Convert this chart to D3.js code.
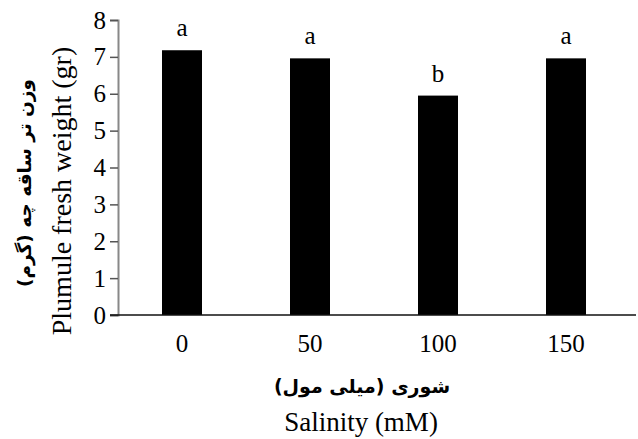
<!DOCTYPE html>
<html>
<head>
<meta charset="utf-8">
<script src="https://cdn.jsdelivr.net/npm/d3@7"></script>
<style>
  body { margin: 0; background: #fff; }
  svg { display: block; }
</style>
</head>
<body>
<div id="chart"></div>
<script>
// salinity levels (mM)
const categories = ["0", "50", "100", "150"];
// plumule fresh weight (gr)
const values = [7.18, 6.96, 5.95, 6.96];
// mean comparison letters
const letters = ["a", "a", "b", "a"];
const yTicks = [0, 1, 2, 3, 4, 5, 6, 7, 8];

const SERIF = "Liberation Serif";
const FA = "DejaVu Sans";

function drawChart() {
    const W = 638, H = 439;
    const margin = { left: 118, top: 20 };
    const plotW = 512, plotH = 295;

    const svg = d3.select("#chart").append("svg")
        .attr("width", W)
        .attr("height", H)
        .attr("font-family", SERIF);

    const x = d3.scaleBand()
        .domain(categories)
        .range([margin.left, margin.left + plotW])
        .paddingInner(0.6875)
        .paddingOuter(0.34375);

    const y = d3.scaleLinear()
        .domain([0, 8])
        .range([margin.top + plotH, margin.top]);

    // y axis
    const yAxis = svg.append("g")
        .attr("transform", `translate(${margin.left},0)`)
        .call(d3.axisLeft(y).tickValues(yTicks).tickSize(8).tickPadding(4));
    yAxis.attr("font-family", SERIF).attr("font-size", 25);
    yAxis.selectAll(".tick text").attr("fill", "#000");
    yAxis.select(".domain").attr("stroke", "#888").attr("stroke-width", 2);
    yAxis.selectAll(".tick line").attr("stroke", "#555").attr("stroke-width", 1.5);

    // bars
    svg.append("g")
        .selectAll("rect")
        .data(values)
        .enter()
        .append("rect")
        .attr("x", (d, i) => x(categories[i]))
        .attr("y", d => y(d))
        .attr("width", x.bandwidth())
        .attr("height", d => y(0) - y(d))
        .attr("fill", "#000");

    // letters above bars
    svg.append("g")
        .attr("font-family", SERIF)
        .attr("font-size", 25)
        .selectAll("text")
        .data(values)
        .enter()
        .append("text")
        .attr("x", (d, i) => x(categories[i]) + x.bandwidth() / 2)
        .attr("y", d => y(d) - 14)
        .attr("text-anchor", "middle")
        .text((d, i) => letters[i]);

    // x axis (labels only) + baseline
    const xAxis = svg.append("g")
        .attr("transform", `translate(0,${y(0)})`)
        .call(d3.axisBottom(x).tickSize(0).tickPadding(19));
    xAxis.attr("font-family", SERIF).attr("font-size", 25);
    xAxis.selectAll(".tick text").attr("fill", "#000");
    xAxis.select(".domain").remove();

    svg.append("line")
        .attr("x1", margin.left - 8)
        .attr("x2", 636)
        .attr("y1", y(0))
        .attr("y2", y(0))
        .attr("stroke", "#111")
        .attr("stroke-width", 1.5);

    // x titles
    svg.append("text")
        .attr("font-family", FA)
        .attr("font-weight", "bold")
        .attr("font-size", 19)
        .attr("x", 362)
        .attr("y", 393)
        .attr("text-anchor", "middle")
        .attr("direction", "rtl")
        .text("شوری (میلی مول)");

    svg.append("text")
        .attr("font-family", SERIF)
        .attr("font-size", 27)
        .attr("x", 361)
        .attr("y", 431)
        .attr("text-anchor", "middle")
        .text("Salinity (mM)");

    // y titles
    svg.append("text")
        .attr("font-family", SERIF)
        .attr("font-size", 28)
        .attr("transform", "translate(71,191) rotate(-90)")
        .attr("text-anchor", "middle")
        .text("Plumule fresh weight (gr)");

    svg.append("text")
        .attr("font-family", FA)
        .attr("font-weight", "bold")
        .attr("font-size", 18.5)
        .attr("transform", "translate(31,183) rotate(-90)")
        .attr("text-anchor", "middle")
        .attr("direction", "rtl")
        .text("وزن تر ساقه چه (گرم)");
}

drawChart();
</script>
</body>
</html>
